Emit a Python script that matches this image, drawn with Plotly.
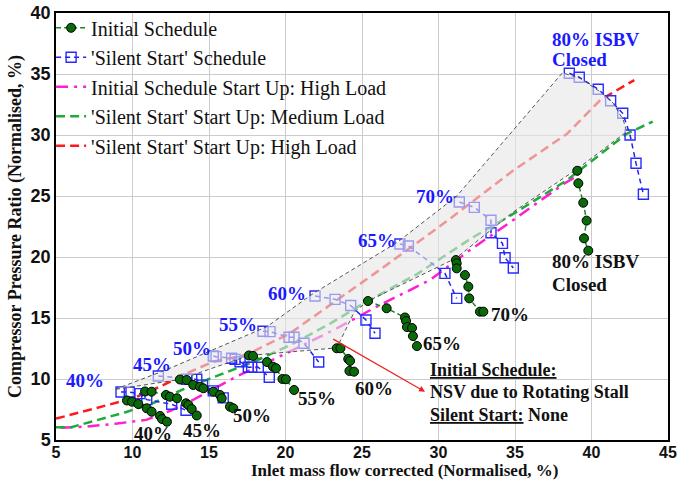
import plotly.graph_objects as go

# ---------------- data ----------------
# Initial Schedule (green circles), one list per speed line
init_40_x = [9.64, 9.97, 10.38, 10.93, 11.25, 11.80, 11.93, 12.25]
init_40_y = [8.24, 8.14, 7.95, 7.60, 7.32, 6.97, 6.72, 6.50]
init_45_x = [10.82, 11.25, 12.19, 12.45, 12.91, 13.50, 13.65, 13.87, 14.20]
init_45_y = [8.98, 8.96, 8.69, 8.55, 8.42, 8.01, 7.87, 7.54, 7.01]
init_50_x = [13.10, 13.54, 13.97, 14.41, 14.63, 15.28, 15.72, 15.83, 16.37, 16.59]
init_50_y = [9.96, 9.92, 9.51, 9.37, 9.24, 8.96, 8.69, 8.42, 7.73, 7.60]
init_55_x = [17.61, 17.88, 18.79, 19.18, 19.38, 19.80, 20.03, 20.56]
init_55_y = [11.93, 11.89, 11.39, 11.01, 10.88, 10.00, 9.98, 9.10]
init_60_x = [23.35, 23.59, 24.10, 24.22, 24.18, 24.48]
init_60_y = [12.52, 12.52, 11.64, 11.48, 10.66, 10.60]
init_65_x = [25.39, 26.61, 27.81, 27.88, 27.94, 28.27, 28.33, 28.59]
init_65_y = [16.39, 15.80, 15.04, 14.75, 14.26, 14.18, 13.52, 12.70]
init_70_x = [31.14, 31.19, 31.19, 31.73, 31.95, 32.01, 32.71, 32.93]
init_70_y = [19.75, 19.48, 19.07, 18.52, 17.57, 16.61, 15.52, 15.52]
init_80_x = [39.07, 39.14, 39.46, 39.68, 39.51, 39.79]
init_80_y = [27.07, 26.04, 24.45, 22.98, 21.53, 20.52]

# 'Silent Start' Schedule (blue squares)
ss_40_x = [9.25, 9.79, 10.49, 10.93, 12.56, 13.50]
ss_40_y = [8.93, 8.93, 8.80, 8.31, 7.93, 7.44]
ss_45_x = [11.69, 13.54, 13.87, 14.20, 14.58, 15.28, 15.93]
ss_45_y = [10.25, 9.98, 9.98, 9.98, 9.50, 9.03, 8.45]
ss_50_x = [15.28, 15.46, 16.48, 16.70, 17.03, 17.57, 17.79, 18.22, 18.94]
ss_50_y = [11.89, 11.83, 11.70, 11.61, 11.42, 10.96, 10.96, 10.96, 10.14]
ss_55_x = [18.53, 18.99, 20.23, 20.56, 21.21, 22.17]
ss_55_y = [13.91, 13.88, 13.42, 13.42, 12.93, 11.39]
ss_60_x = [21.93, 23.24, 24.26, 25.26, 25.85]
ss_60_y = [16.80, 16.53, 16.02, 14.84, 13.75]
ss_65_x = [27.48, 28.03, 30.42, 31.19]
ss_65_y = [21.07, 20.90, 18.66, 16.61]
ss_70_x = [31.36, 32.34, 33.43, 33.43, 34.18, 34.35, 34.89]
ss_70_y = [24.51, 24.07, 23.01, 21.99, 21.12, 19.94, 19.10]
ss_80_x = [38.55, 39.20, 40.44, 41.25, 42.04, 42.52, 42.91, 43.39]
ss_80_y = [35.06, 34.73, 33.75, 32.81, 31.78, 30.00, 27.68, 25.14]

# Start-up lines
init_high_x = [5.3, 7.0, 9.0, 10.9, 12.5, 13.95, 15.4, 16.8, 19.6, 23.35, 25.96, 29.44, 32.06, 34.89, 38.2, 39.0]
init_high_y = [6.0, 6.1, 6.35, 6.65, 7.4, 8.28, 9.25, 10.2, 11.83, 14.15, 15.93, 18.11, 20.57, 23.03, 26.0, 26.6]
ss_med_x = [5.0, 6.0, 7.6, 9.6, 11.4, 13.3, 15.3, 17.9, 20.5, 23.0, 25.1, 28.6, 32.1, 35.1, 38.4, 42.3, 44.0]
ss_med_y = [6.05, 6.05, 6.6, 7.3, 8.05, 9.15, 10.15, 11.4, 12.9, 14.6, 16.2, 18.6, 21.5, 23.7, 26.3, 30.1, 31.1]
ss_high_x = [5.0, 7.66, 10.05, 11.8, 13.54, 15.28, 17.47, 20.3, 23.1, 26.0, 30.5, 34.9, 38.4, 40.6, 42.8]
ss_high_y = [6.75, 7.6, 8.42, 9.37, 10.47, 11.42, 12.0, 13.75, 16.2, 18.8, 22.9, 27.1, 30.1, 32.9, 34.5]

# Shaded envelope outline
env_x = [8.86, 12.2, 18.8, 21.8, 27.3, 31.2, 38.1, 39.25, 40.56, 41.43, 42.08, 42.3,
         39.05, 34.9, 31.14, 25.39, 24.5, 23.35, 17.61, 13.1, 8.86]
env_y = [9.15, 10.75, 14.3, 17.0, 21.2, 25.0, 35.1, 34.65, 33.55, 32.6, 31.23, 30.27,
         27.2, 23.7, 19.9, 16.39, 15.5, 12.55, 11.93, 9.96, 9.15]

# Speed labels
blue_lbl = ["40%", "45%", "50%", "55%", "60%", "65%", "70%"]
blue_lbl_x = [6.9, 11.25, 13.87, 16.92, 20.08, 25.96, 29.77]
blue_lbl_y = [9.84, 11.15, 12.52, 14.48, 17.02, 21.34, 25.0]
black_lbl = ["40%", "45%", "50%", "55%", "60%", "65%", "70%"]
black_lbl_x = [11.36, 14.52, 17.79, 22.04, 25.78, 30.21, 34.67]
black_lbl_y = [5.55, 5.82, 6.97, 8.42, 9.24, 12.87, 15.25]

x_ticks = [5, 10, 15, 20, 25, 30, 35, 40, 45]
y_ticks = [5, 10, 15, 20, 25, 30, 35, 40]


def join(pairs):
    xs, ys = [], []
    for px, py in pairs:
        if xs:
            xs.append(None)
            ys.append(None)
        xs += px
        ys += py
    return xs, ys


init_x, init_y = join([(init_40_x, init_40_y), (init_45_x, init_45_y), (init_50_x, init_50_y),
                       (init_55_x, init_55_y), (init_60_x, init_60_y), (init_65_x, init_65_y),
                       (init_70_x, init_70_y), (init_80_x, init_80_y)])
ss_x, ss_y = join([(ss_40_x, ss_40_y), (ss_45_x, ss_45_y), (ss_50_x, ss_50_y),
                   (ss_55_x, ss_55_y), (ss_60_x, ss_60_y), (ss_65_x, ss_65_y),
                   (ss_70_x, ss_70_y), (ss_80_x, ss_80_y)])

SERIF = "Liberation Serif"
fig = go.Figure()

fig.add_trace(go.Scatter(x=init_high_x, y=init_high_y, mode="lines",
                         name="Initial Schedule Start Up: High Load",
                         line=dict(color="#ff1fd0", width=2.5, dash="12px,6px,3px,6px"),
                         legendgroup="c", legendrank=3))
fig.add_trace(go.Scatter(x=ss_med_x, y=ss_med_y, mode="lines",
                         name="'Silent Start' Start Up: Medium Load",
                         line=dict(color="#1faa3c", width=2.5, dash="9px,5px"),
                         legendgroup="d", legendrank=4))
fig.add_trace(go.Scatter(x=ss_high_x, y=ss_high_y, mode="lines",
                         name="'Silent Start' Start Up: High Load",
                         line=dict(color="#ff1a1a", width=2.5, dash="9px,5px"),
                         legendgroup="e", legendrank=5))
fig.add_trace(go.Scatter(x=ss_x, y=ss_y, mode="lines+markers",
                         name="'Silent Start' Schedule",
                         line=dict(color="#2222ee", width=1.5, dash="5px,4px"),
                         marker=dict(symbol="square-open", size=10, color="#2a2aff",
                                     line=dict(width=1.4)),
                         legendgroup="b", legendrank=2))
fig.add_trace(go.Scatter(x=env_x, y=env_y, mode="lines", fill="toself",
                         fillcolor="rgba(230,230,230,0.6)",
                         line=dict(color="#555555", width=1, dash="4px,3px"),
                         showlegend=False, hoverinfo="skip"))
fig.add_trace(go.Scatter(x=init_x, y=init_y, mode="lines+markers",
                         name="Initial Schedule",
                         line=dict(color="#1a8a1a", width=1.5, dash="5px,3px"),
                         marker=dict(symbol="circle", size=9, color="#0a6a0a",
                                     line=dict(color="black", width=1)),
                         legendgroup="a", legendrank=1))

ann = []
for t, x, y in zip(blue_lbl, blue_lbl_x, blue_lbl_y):
    ann.append(dict(x=x, y=y, text="<b>%s</b>" % t, showarrow=False,
                    font=dict(family=SERIF, size=19, color="#1a1aff")))
for t, x, y in zip(black_lbl, black_lbl_x, black_lbl_y):
    ann.append(dict(x=x, y=y, text="<b>%s</b>" % t, showarrow=False,
                    font=dict(family=SERIF, size=19, color="#111111")))
for txt, yy in (("80% ISBV", 37.79), ("Closed", 36.15)):
    ann.append(dict(x=37.29, y=yy, text="<b>%s</b>" % txt, showarrow=False,
                    xanchor="left", font=dict(family=SERIF, size=19, color="#1a1aff")))
for txt, yy in (("80% ISBV", 19.67), ("Closed", 17.75)):
    ann.append(dict(x=37.29, y=yy, text="<b>%s</b>" % txt, showarrow=False,
                    xanchor="left", font=dict(family=SERIF, size=19, color="#111111")))
ann.append(dict(x=29.33, y=10.74, text="<b><u>Initial Schedule:</u></b>", showarrow=False,
                xanchor="left", font=dict(family=SERIF, size=18, color="#111111")))
ann.append(dict(x=29.33, y=8.96, text="<b>NSV due to Rotating Stall</b>", showarrow=False,
                xanchor="left", font=dict(family=SERIF, size=18, color="#111111")))
ann.append(dict(x=29.33, y=7.05, text="<b><u>Silent Start:</u> None</b>", showarrow=False,
                xanchor="left", font=dict(family=SERIF, size=18, color="#111111")))
ann.append(dict(x=29.12, y=8.96, ax=23.02, ay=13.34, axref="x", ayref="y", xref="x", yref="y",
                text="", showarrow=True, arrowhead=2, arrowsize=1, arrowwidth=1.2,
                arrowcolor="#ee2222"))
# x-axis title as annotation (positioned as in the reference)
ann.append(dict(xref="paper", yref="paper", x=0.57, y=-0.0705, yanchor="middle",
                text="<b>Inlet mass flow corrected (Normalised, %)</b>", showarrow=False,
                font=dict(family=SERIF, size=17, color="#111111")))

fig.update_layout(
    width=690, height=480,
    margin=dict(l=56, r=22, t=13, b=40, autoexpand=False),
    plot_bgcolor="white", paper_bgcolor="white",
    annotations=ann,
    legend=dict(x=-0.008, y=1.011, xanchor="left", yanchor="top",
                bgcolor="rgba(0,0,0,0)", font=dict(family=SERIF, size=20, color="#111111"),
                tracegroupgap=0.5, itemwidth=30),
)
fig.update_xaxes(range=[5, 45], tickvals=x_ticks, showgrid=True, gridcolor="#cccccc",
                 showline=True, linecolor="black", linewidth=1.5, mirror=True, ticks="",
                 zeroline=False, automargin=False, ticklabelstandoff=-3,
                 tickfont=dict(family="Liberation Sans", size=16, color="#111111", weight="bold"))
fig.update_yaxes(range=[5, 40], tickvals=y_ticks, showgrid=True, gridcolor="#cccccc",
                 showline=True, linecolor="black", linewidth=1.5, mirror=True, ticks="",
                 zeroline=False, automargin=False,
                 tickfont=dict(family="Liberation Sans", size=18, color="#111111", weight="bold"),
                 title=dict(text="<b>Compressor Pressure Ratio (Normalised, %)</b>", standoff=4,
                            font=dict(family=SERIF, size=18, color="#111111")))

fig.write_html("out.html")
